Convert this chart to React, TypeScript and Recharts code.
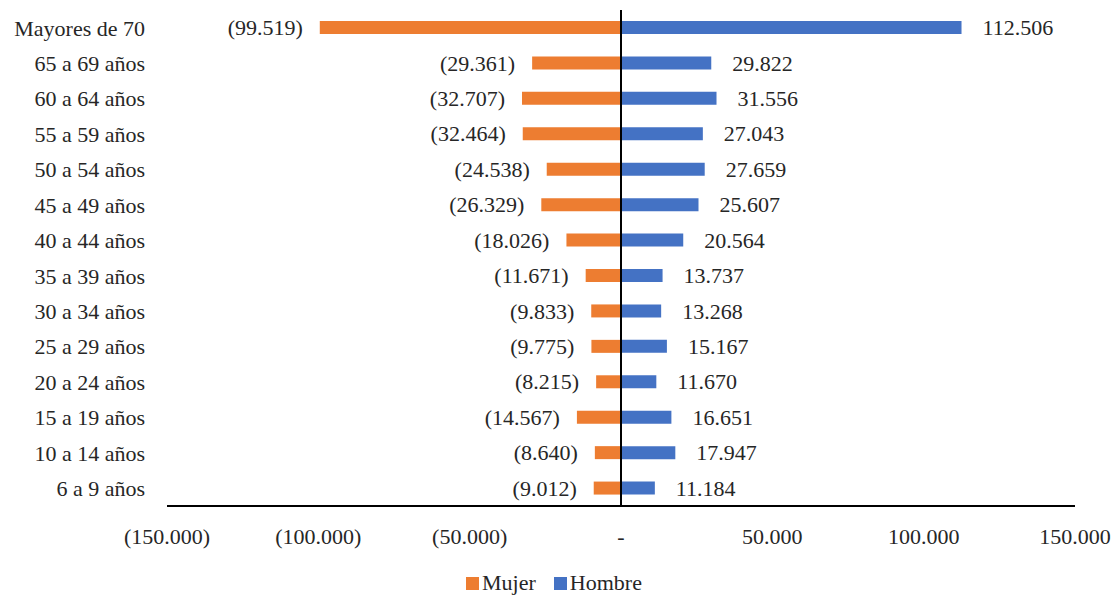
import { Bar, BarChart, LabelList, Legend, ReferenceLine, XAxis, YAxis } from "recharts"

const categories = [
  "Mayores de 70",
  "65 a 69 años",
  "60 a 64 años",
  "55 a 59 años",
  "50 a 54 años",
  "45 a 49 años",
  "40 a 44 años",
  "35 a 39 años",
  "30 a 34 años",
  "25 a 29 años",
  "20 a 24 años",
  "15 a 19 años",
  "10 a 14 años",
  "6 a 9 años",
]
const mujer = [
  -99519, -29361, -32707, -32464, -24538, -26329, -18026, -11671, -9833, -9775, -8215, -14567, -8640, -9012,
]
const hombre = [112506, 29822, 31556, 27043, 27659, 25607, 20564, 13737, 13268, 15167, 11670, 16651, 17947, 11184]
const xTicks = [-150000, -100000, -50000, 0, 50000, 100000, 150000]

const data = categories.map((c, i) => ({ grupo: c, Mujer: mujer[i], Hombre: hombre[i] }))

const FONT = "Liberation Serif, DejaVu Serif, serif"
const FS = 22
const TEXT = "#262626"
const ORANGE = "#ED7D31"
const BLUE = "#4472C4"

// 12345 -> "12.345", negatives in parentheses, zero as "-"
function fmt(v: number) {
  if (v === 0) return "-"
  const s = Math.abs(v)
    .toFixed(0)
    .replace(/\B(?=(\d{3})+(?!\d))/g, ".")
  return v < 0 ? `(${s})` : s
}

// value label placed outside the bar end, works for negative widths too
function sideLabel(side: "left" | "right", gap: number) {
  return (p: any) => {
    const x = Number(p.x)
    const w = Number(p.width)
    const y = Number(p.y) + Number(p.height) / 2
    const left = Math.min(x, x + w)
    const right = Math.max(x, x + w)
    return (
      <text
        x={side === "left" ? left - gap : right + gap}
        y={y}
        dy="0.35em"
        textAnchor={side === "left" ? "end" : "start"}
        fill={TEXT}
        fontSize={FS}
        fontFamily={FONT}
      >
        {fmt(Number(p.value))}
      </text>
    )
  }
}

function LegendBox() {
  const items = [
    { name: "Mujer", color: ORANGE },
    { name: "Hombre", color: BLUE },
  ]
  return (
    <div
      style={{
        display: "flex",
        justifyContent: "center",
        gap: 18,
        fontFamily: FONT,
        fontSize: FS,
        lineHeight: "26px",
        color: TEXT,
        paddingLeft: 33,
      }}
    >
      {items.map((it) => (
        <span key={it.name} style={{ display: "flex", alignItems: "center" }}>
          <span style={{ width: 13, height: 13, background: it.color, marginRight: 3, display: "inline-block" }} />
          {it.name}
        </span>
      ))}
    </div>
  )
}

export default function App() {
  return (
    <div style={{ position: "fixed", left: 0, top: 0, width: 1115, height: 596, background: "#fff", fontFamily: FONT }}>
      <BarChart
        width={1115}
        height={596}
        data={data}
        layout="vertical"
        stackOffset="sign"
        margin={{ top: 10, right: 40, left: 0, bottom: 0 }}
      >
        <XAxis
          type="number"
          domain={[-150000, 150000]}
          ticks={xTicks}
          tickFormatter={fmt}
          tickLine={false}
          tickSize={0}
          tickMargin={22}
          axisLine={{ stroke: "#000", strokeWidth: 2 }}
          tick={{ fill: TEXT, fontSize: FS, fontFamily: FONT }}
          height={64}
        />
        <YAxis
          type="category"
          dataKey="grupo"
          width={167}
          axisLine={false}
          tickLine={false}
          tickSize={0}
          tickMargin={22}
          interval={0}
          tick={{ fill: TEXT, fontSize: FS, fontFamily: FONT }}
        />
        <Legend verticalAlign="bottom" content={<LegendBox />} wrapperStyle={{ height: 26 }} />
        <Bar dataKey="Mujer" stackId="a" fill={ORANGE} barSize={13} isAnimationActive={false}>
          <LabelList dataKey="Mujer" content={sideLabel("left", 17)} />
        </Bar>
        <Bar dataKey="Hombre" stackId="a" fill={BLUE} barSize={13} isAnimationActive={false}>
          <LabelList dataKey="Hombre" content={sideLabel("right", 21)} />
        </Bar>
        <ReferenceLine x={0} stroke="#000" strokeWidth={2} />
      </BarChart>
    </div>
  )
}
